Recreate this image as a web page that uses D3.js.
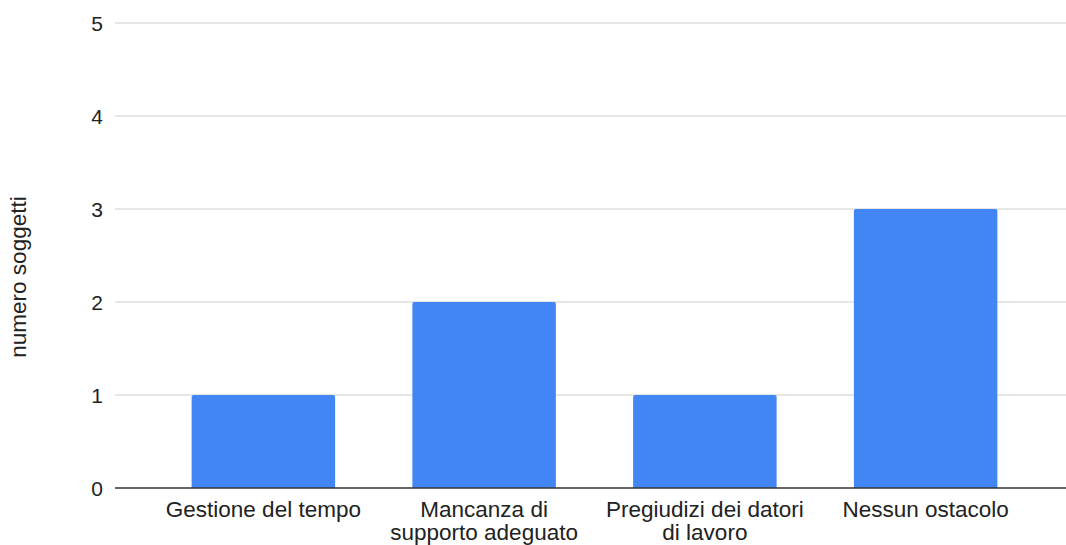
<!DOCTYPE html>
<html><head><meta charset="utf-8">
<script src="https://cdn.jsdelivr.net/npm/d3@7"></script>
<style>body{margin:0;background:#fff}svg{display:block}text{font-family:"Liberation Sans",Arial,sans-serif}</style>
</head><body><svg id="c" width="1066" height="545"></svg>
<script>
const categories = ["Gestione del tempo", "Mancanza di supporto adeguato", "Pregiudizi dei datori di lavoro", "Nessun ostacolo"];
const labelLines = [["Gestione del tempo"], ["Mancanza di", "supporto adeguato"], ["Pregiudizi dei datori", "di lavoro"], ["Nessun ostacolo"]];
const values = [1, 2, 1, 3];
const yTicks = [0, 1, 2, 3, 4, 5];
const yTitle = "numero soggetti";

const svg = d3.select("#c");
const x = d3.scaleBand().domain(categories).range([153, 1036]).paddingInner(0.35).paddingOuter(0.175);
const y = d3.scaleLinear().domain([0, 5]).range([488, 23]);

svg.append("g").selectAll("line").data(yTicks.filter(d => d > 0)).join("line")
  .attr("x1", 115).attr("x2", 1066).attr("y1", d => y(d)).attr("y2", d => y(d))
  .attr("stroke", "#cccccc").attr("stroke-width", 1);

svg.append("g").selectAll("text").data(yTicks).join("text")
  .attr("x", 103).attr("y", d => y(d)).attr("dy", "0.36em").attr("text-anchor", "end")
  .attr("font-size", 21).attr("fill", "#222").text(d => d);

const r = 2;
svg.append("g").selectAll("path").data(values).join("path")
  .attr("fill", "#4285f4")
  .attr("d", (d, i) => {
    const x0 = x(categories[i]), w = x.bandwidth(), y0 = y(d), y1 = y(0);
    return `M${x0},${y1}V${y0 + r}Q${x0},${y0} ${x0 + r},${y0}H${x0 + w - r}Q${x0 + w},${y0} ${x0 + w},${y0 + r}V${y1}Z`;
  });

svg.append("line").attr("x1", 115).attr("x2", 1066).attr("y1", y(0)).attr("y2", y(0))
  .attr("stroke", "#333").attr("stroke-width", 1.5);

const lab = svg.append("g").selectAll("text").data(categories).join("text")
  .attr("text-anchor", "middle").attr("font-size", 22.5).attr("fill", "#222")
  .attr("x", d => x(d) + x.bandwidth() / 2).attr("y", 517);
lab.each(function(d, i) {
  d3.select(this).selectAll("tspan").data(labelLines[i]).join("tspan")
    .attr("x", x(d) + x.bandwidth() / 2).attr("dy", (t, j) => j === 0 ? 0 : 23).text(t => t);
});

svg.append("text").attr("transform", "translate(26,277) rotate(-90)")
  .attr("text-anchor", "middle").attr("font-size", 22.5).attr("fill", "#222").text(yTitle);
</script></body></html>
